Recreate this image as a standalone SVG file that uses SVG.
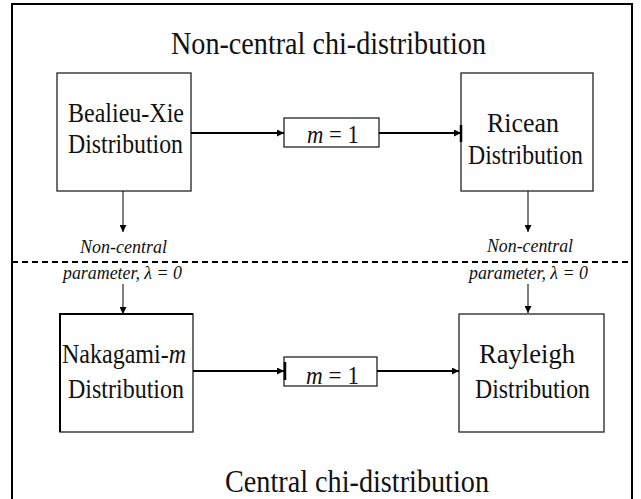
<svg xmlns="http://www.w3.org/2000/svg" width="641" height="499" viewBox="0 0 641 499">
<style>
.t{font-family:"Liberation Serif","Times New Roman",serif;fill:#111}
.big{font-size:31px}
.box{font-size:28px}
.lab{font-size:19px;font-style:italic}
.eq{font-size:25px}
.node{fill:#fff;stroke:#222;stroke-width:1.3}
.ah{stroke:#000;stroke-width:2;fill:none}
.av{stroke:#000;stroke-width:1;fill:none}
</style>
<defs>
<marker id="arr" markerUnits="userSpaceOnUse" markerWidth="8" markerHeight="7" refX="7" refY="3.5" orient="auto">
<path d="M0,0 L7,3.5 L0,7 z" fill="#000"/>
</marker>
</defs>
<rect x="0" y="0" width="641" height="499" fill="#fff"/>
<path d="M12,505 V4 H632 V505" fill="none" stroke="#000" stroke-width="2"/>
<text class="t big" x="171" y="54" textLength="315" lengthAdjust="spacingAndGlyphs">Non-central chi-distribution</text>
<line x1="12" y1="262" x2="632" y2="262" stroke="#000" stroke-width="1.8" stroke-dasharray="6,4"/>
<text class="t big" x="225" y="492" textLength="264" lengthAdjust="spacingAndGlyphs">Central chi-distribution</text>

<g id="bealieu">
<rect class="node" x="57" y="73" width="134" height="118"/>
<text class="t box" x="68" y="122" textLength="116" lengthAdjust="spacingAndGlyphs">Bealieu-Xie</text>
<text class="t box" x="68" y="153" textLength="115" lengthAdjust="spacingAndGlyphs">Distribution</text>
</g>
<g id="m1top">
<rect class="node" x="284" y="118" width="95" height="29"/>
<text class="t eq" x="307" y="143" textLength="52" lengthAdjust="spacingAndGlyphs"><tspan font-style="italic">m</tspan> = 1</text>
</g>
<g id="ricean">
<rect class="node" x="461" y="73" width="132" height="118"/>
<line x1="461" y1="125" x2="461" y2="142" stroke="#000" stroke-width="2.5"/>
<text class="t box" x="487" y="132" textLength="72" lengthAdjust="spacingAndGlyphs">Ricean</text>
<text class="t box" x="468" y="164" textLength="115" lengthAdjust="spacingAndGlyphs">Distribution</text>
</g>
<g id="nakagami">
<rect class="node" x="60" y="314" width="133" height="118"/>
<path d="M60,432 V314 H193" fill="none" stroke="#000" stroke-width="2"/>
<text class="t box" x="62" y="363" textLength="124" lengthAdjust="spacingAndGlyphs">Nakagami-<tspan font-style="italic">m</tspan></text>
<text class="t box" x="68" y="398" textLength="116" lengthAdjust="spacingAndGlyphs">Distribution</text>
</g>
<g id="m1bottom">
<rect class="node" x="284" y="357" width="93" height="29" stroke="#555"/>
<line x1="285" y1="362" x2="285" y2="380" stroke="#000" stroke-width="2.5"/>
<text class="t eq" x="306" y="384" textLength="53" lengthAdjust="spacingAndGlyphs"><tspan font-style="italic">m</tspan> = 1</text>
</g>
<g id="rayleigh">
<rect class="node" x="459" y="314" width="145" height="118" stroke="#444"/>
<text class="t box" x="479" y="363" textLength="96" lengthAdjust="spacingAndGlyphs">Rayleigh</text>
<text class="t box" x="475" y="398" textLength="115" lengthAdjust="spacingAndGlyphs">Distribution</text>
</g>
<g id="labels">
<text class="t lab" x="80" y="253" textLength="87" lengthAdjust="spacingAndGlyphs">Non-central</text>
<text class="t lab" x="63" y="279" textLength="119" lengthAdjust="spacingAndGlyphs">parameter, λ = 0</text>
<text class="t lab" x="487" y="252" textLength="86" lengthAdjust="spacingAndGlyphs">Non-central</text>
<text class="t lab" x="469" y="279" textLength="119" lengthAdjust="spacingAndGlyphs">parameter, λ = 0</text>
</g>
<g id="connectors">
<line class="ah" x1="191" y1="133" x2="284" y2="133" marker-end="url(#arr)"/>
<line class="ah" x1="379" y1="133" x2="461" y2="133" marker-end="url(#arr)"/>
<line class="ah" x1="193" y1="371" x2="284" y2="371" marker-end="url(#arr)"/>
<line class="ah" x1="377" y1="371" x2="459" y2="371" marker-end="url(#arr)"/>
<line class="av" x1="123" y1="191" x2="123" y2="232" marker-end="url(#arr)"/>
<line class="av" x1="123" y1="284" x2="123" y2="314" marker-end="url(#arr)"/>
<line class="av" x1="528" y1="191" x2="528" y2="232" marker-end="url(#arr)"/>
<line class="av" x1="528" y1="284" x2="528" y2="313" marker-end="url(#arr)"/>
</g>
</svg>
